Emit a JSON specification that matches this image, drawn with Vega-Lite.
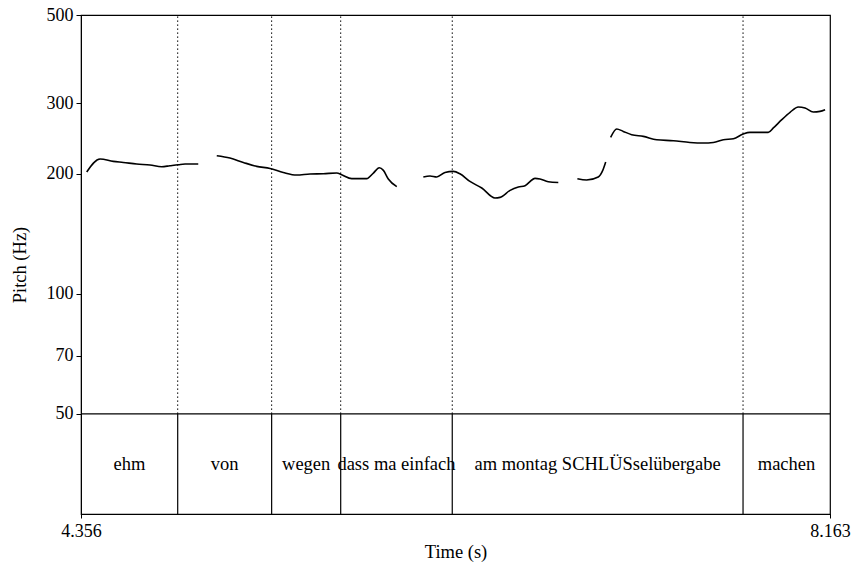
{
  "$schema": "https://vega.github.io/schema/vega-lite/v6.json",
  "width": 749,
  "height": 499,
  "autosize": {"type": "none"},
  "padding": {"left": 81, "top": 15, "right": 24, "bottom": 52},
  "background": "white",
  "config": {
    "view": {"stroke": "black", "strokeWidth": 1.2},
    "axis": {
      "labelFont": "Liberation Serif", "labelFontSize": 18, "labelColor": "black",
      "titleFont": "Liberation Serif", "titleFontSize": 18.5, "titleColor": "black", "titleFontWeight": "normal",
      "tickColor": "black", "domainColor": "black", "grid": false, "tickSize": 5, "labelFlush": false
    },
    "text": {"font": "Liberation Serif", "fontSize": 18.5, "color": "black"}
  },
  "datasets": {
    "pitch": [
      {"seg": 1, "t": 4.385, "hz": 202.0}, {"seg": 1, "t": 4.453, "hz": 217.7}, {"seg": 1, "t": 4.520, "hz": 214.8},
      {"seg": 1, "t": 4.571, "hz": 213.5}, {"seg": 1, "t": 4.639, "hz": 211.5}, {"seg": 1, "t": 4.707, "hz": 210.3},
      {"seg": 1, "t": 4.766, "hz": 208.3}, {"seg": 1, "t": 4.808, "hz": 209.5}, {"seg": 1, "t": 4.851, "hz": 210.7},
      {"seg": 1, "t": 4.885, "hz": 211.5}, {"seg": 1, "t": 4.952, "hz": 211.5},
      {"seg": 2, "t": 5.046, "hz": 221.9}, {"seg": 2, "t": 5.113, "hz": 219.0}, {"seg": 2, "t": 5.181, "hz": 213.5},
      {"seg": 2, "t": 5.249, "hz": 208.7}, {"seg": 2, "t": 5.317, "hz": 206.2}, {"seg": 2, "t": 5.384, "hz": 201.5},
      {"seg": 2, "t": 5.452, "hz": 198.5}, {"seg": 2, "t": 5.520, "hz": 199.7}, {"seg": 2, "t": 5.588, "hz": 200.0},
      {"seg": 2, "t": 5.656, "hz": 200.8}, {"seg": 2, "t": 5.681, "hz": 198.9}, {"seg": 2, "t": 5.732, "hz": 194.4},
      {"seg": 2, "t": 5.808, "hz": 194.4}, {"seg": 2, "t": 5.842, "hz": 200.8}, {"seg": 2, "t": 5.872, "hz": 207.0},
      {"seg": 2, "t": 5.893, "hz": 203.9}, {"seg": 2, "t": 5.918, "hz": 194.0}, {"seg": 2, "t": 5.961, "hz": 185.6},
      {"seg": 3, "t": 6.096, "hz": 196.3}, {"seg": 3, "t": 6.130, "hz": 197.4}, {"seg": 3, "t": 6.164, "hz": 196.3},
      {"seg": 3, "t": 6.206, "hz": 201.5}, {"seg": 3, "t": 6.248, "hz": 202.7}, {"seg": 3, "t": 6.282, "hz": 200.0},
      {"seg": 3, "t": 6.333, "hz": 191.3}, {"seg": 3, "t": 6.393, "hz": 184.2}, {"seg": 3, "t": 6.460, "hz": 173.9},
      {"seg": 3, "t": 6.486, "hz": 174.5}, {"seg": 3, "t": 6.537, "hz": 181.7}, {"seg": 3, "t": 6.579, "hz": 185.2},
      {"seg": 3, "t": 6.613, "hz": 186.7}, {"seg": 3, "t": 6.664, "hz": 194.7}, {"seg": 3, "t": 6.689, "hz": 194.0},
      {"seg": 3, "t": 6.731, "hz": 191.0}, {"seg": 3, "t": 6.782, "hz": 190.2},
      {"seg": 4, "t": 6.879, "hz": 194.4}, {"seg": 4, "t": 6.926, "hz": 192.9}, {"seg": 4, "t": 6.985, "hz": 196.3},
      {"seg": 4, "t": 7.008, "hz": 203.9}, {"seg": 4, "t": 7.023, "hz": 214.0},
      {"seg": 5, "t": 7.048, "hz": 246.7}, {"seg": 5, "t": 7.079, "hz": 259.0}, {"seg": 5, "t": 7.112, "hz": 255.4},
      {"seg": 5, "t": 7.155, "hz": 250.6}, {"seg": 5, "t": 7.214, "hz": 248.1}, {"seg": 5, "t": 7.282, "hz": 243.4},
      {"seg": 5, "t": 7.367, "hz": 242.0}, {"seg": 5, "t": 7.451, "hz": 239.6}, {"seg": 5, "t": 7.519, "hz": 238.8},
      {"seg": 5, "t": 7.570, "hz": 239.6}, {"seg": 5, "t": 7.621, "hz": 243.4}, {"seg": 5, "t": 7.672, "hz": 244.8},
      {"seg": 5, "t": 7.722, "hz": 251.6}, {"seg": 5, "t": 7.756, "hz": 253.9}, {"seg": 5, "t": 7.849, "hz": 253.9},
      {"seg": 5, "t": 7.875, "hz": 260.5}, {"seg": 5, "t": 7.918, "hz": 273.3}, {"seg": 5, "t": 7.960, "hz": 285.1},
      {"seg": 5, "t": 8.002, "hz": 294.1}, {"seg": 5, "t": 8.036, "hz": 292.4}, {"seg": 5, "t": 8.078, "hz": 285.7},
      {"seg": 5, "t": 8.112, "hz": 286.7}, {"seg": 5, "t": 8.138, "hz": 289.5}
    ],
    "bounds": [
      {"t": 4.8475}, {"t": 5.325}, {"t": 5.676}, {"t": 6.243}, {"t": 7.721}
    ],
    "labels": [
      {"mid": 4.6018, "word": "ehm"},
      {"mid": 5.086, "word": "von"},
      {"mid": 5.5005, "word": "wegen"},
      {"mid": 5.9595, "word": "dass ma einfach"},
      {"mid": 6.982, "word": "am montag SCHLÜSselübergabe"},
      {"mid": 7.942, "word": "machen"}
    ],
    "base": [{"hz": 50}]
  },
  "layer": [
    {
      "data": {"name": "base"},
      "mark": {"type": "rule", "color": "black", "strokeWidth": 1.2},
      "encoding": {
        "y": {"field": "hz", "type": "quantitative",
          "scale": {"type": "log", "domain": [28.06, 500], "nice": false},
          "axis": {"values": [50, 70, 100, 200, 300, 500], "title": "Pitch (Hz)", "titlePadding": 17, "labelPadding": 3}}
      }
    },
    {
      "data": {"name": "bounds"},
      "mark": {"type": "rule", "color": "black", "strokeWidth": 1, "strokeDash": [1.5, 2.5]},
      "encoding": {
        "x": {"field": "t", "type": "quantitative"},
        "y": {"datum": 50, "type": "quantitative"},
        "y2": {"datum": 500}
      }
    },
    {
      "data": {"name": "bounds"},
      "mark": {"type": "rule", "color": "black", "strokeWidth": 1.2},
      "encoding": {
        "x": {"field": "t", "type": "quantitative"},
        "y": {"datum": 28.06, "type": "quantitative"},
        "y2": {"datum": 50}
      }
    },
    {
      "data": {"name": "pitch"},
      "mark": {"type": "line", "color": "black", "strokeWidth": 1.6, "interpolate": "monotone"},
      "encoding": {
        "x": {"field": "t", "type": "quantitative",
          "scale": {"domain": [4.356, 8.163], "nice": false, "zero": false},
          "axis": {"values": [4.356, 8.163], "format": ".3f", "title": "Time (s)", "labelPadding": 4, "titlePadding": 2, "tickSize": 4}},
        "y": {"field": "hz", "type": "quantitative"},
        "detail": {"field": "seg", "type": "nominal"}
      }
    },
    {
      "data": {"name": "labels"},
      "mark": {"type": "text", "baseline": "middle", "align": "center"},
      "encoding": {
        "x": {"field": "mid", "type": "quantitative"},
        "y": {"datum": 37.46, "type": "quantitative"},
        "text": {"field": "word"}
      }
    }
  ]
}
